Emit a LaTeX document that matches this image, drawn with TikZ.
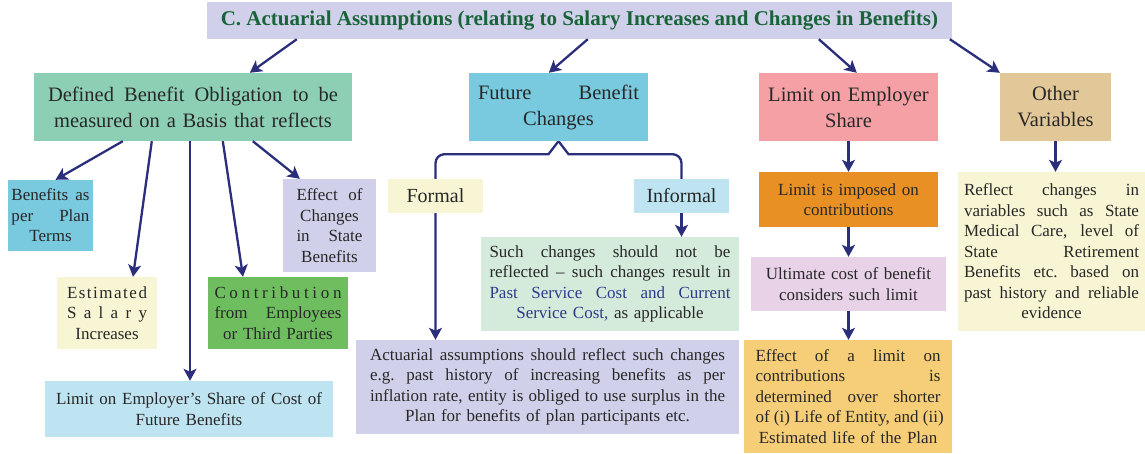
\documentclass[tikz,border=0pt]{standalone}
\usepackage{fontspec}
\setmainfont{Liberation Serif}
\usetikzlibrary{arrows.meta}

\definecolor{arrowblue}{RGB}{43,46,122}
\definecolor{inkgray}{RGB}{40,40,40}
\definecolor{titlegreen}{RGB}{24,100,56}
\definecolor{lavfill}{RGB}{208,208,234}
\definecolor{mintfill}{RGB}{141,207,181}
\definecolor{skyfill}{RGB}{121,201,223}
\definecolor{pinkfill}{RGB}{244,160,165}
\definecolor{tanfill}{RGB}{226,200,152}
\definecolor{paleyellow}{RGB}{248,245,212}
\definecolor{contgreen}{RGB}{110,190,96}
\definecolor{lightblue}{RGB}{190,228,242}
\definecolor{palegreen}{RGB}{212,234,218}
\definecolor{orangefill}{RGB}{232,144,36}
\definecolor{mauvefill}{RGB}{232,210,232}
\definecolor{goldfill}{RGB}{246,206,120}
\definecolor{pastblue}{RGB}{45,60,140}

\newcommand{\jl}[1]{\makebox[\hsize][s]{\spaceskip=.25em plus 1fil\xspaceskip=\spaceskip #1}}

\pgfdeclarelayer{bg}
\pgfsetlayers{bg,main}

\begin{document}
\begin{tikzpicture}[x=1pt, y=-1pt,
  box/.style={rectangle, inner sep=0pt, align=center, text=inkgray, font=\fontsize{17}{20.5}\selectfont},
  head/.style={box, minimum height=68pt, font=\fontsize{20.5}{26}\selectfont},
  arr/.style={-{Stealth[length=12pt, width=13pt, inset=3pt]}, line width=2.3pt, draw=arrowblue},
  link/.style={line width=2.3pt, draw=arrowblue}]
  \useasboundingbox (0,0) rectangle (1145,454);

  \node[box, fill=lavfill, minimum width=745pt, minimum height=37pt, text=titlegreen, font=\fontsize{21}{24}\selectfont\bfseries] (title) at (579.5,20.5) {C. Actuarial Assumptions (relating to Salary Increases and Changes in Benefits)};

  \node[head, fill=mintfill, minimum width=318pt, text width=290pt] (dbo) at (193,107) {\jl{Defined Benefit Obligation to be}\\ measured on a Basis that reflects};
  \node[head, fill=skyfill, minimum width=179pt, text width=161pt] (fbc) at (558.5,107) {\jl{Future Benefit}\\ Changes};
  \node[head, fill=pinkfill, minimum width=179pt, text width=169pt] (les) at (848.5,107) {Limit on Employer\\ Share};
  \node[head, fill=tanfill, minimum width=111pt, text width=100pt] (ov) at (1055.5,107) {Other\\ Variables};

  \node[box, fill=skyfill, minimum width=85pt, minimum height=71pt, text width=78pt] (bpt) at (50.5,215.5) {\jl{Benefits as}\\ \jl{per Plan}\\ Terms};
  \node[box, fill=lavfill, minimum width=93pt, minimum height=93pt, text width=66pt] (eff) at (329.5,225.5) {\jl{Effect of}\\ Changes\\ \jl{in State}\\ Benefits};
  \node[box, fill=paleyellow, minimum width=100pt, minimum height=72pt, text width=80pt] (esi) at (107,313) {\jl{E\hfil s\hfil t\hfil i\hfil m\hfil a\hfil t\hfil e\hfil d}\\ \jl{S\hfil a\hfil l\hfil a\hfil r\hfil y}\\ Increases};
  \node[box, fill=contgreen, minimum width=140pt, minimum height=72pt, text width=127pt] (cont) at (278,313) {\jl{C\hfil o\hfil n\hfil t\hfil r\hfil i\hfil b\hfil u\hfil t\hfil i\hfil o\hfil n}\\ \jl{from Employees}\\ or Third Parties};
  \node[box, fill=lightblue, minimum width=288pt, minimum height=56pt, text width=274pt] (lesc) at (189,409) {Limit on Employer’s Share of Cost of\\ Future Benefits};

  \node[box, fill=paleyellow, minimum width=95pt, minimum height=34pt, font=\fontsize{20}{24}\selectfont] (formal) at (435.5,196) {Formal};
  \node[box, fill=lightblue, minimum width=95pt, minimum height=34pt, font=\fontsize{20}{24}\selectfont] (informal) at (681.5,196) {Informal};
  \node[box, fill=palegreen, minimum width=258pt, minimum height=94pt, text width=241pt] (such) at (610,284) {\jl{Such changes should not be}\\ \jl{reflected -- such changes result in}\\ \jl{\color{pastblue}Past Service Cost and Current}\\ \textcolor{pastblue}{Service Cost,} as applicable};
  \node[box, fill=lavfill, minimum width=383pt, minimum height=94pt, text width=355pt] (act) at (547.5,387) {\jl{Actuarial assumptions should reflect such changes}\\ \jl{e.g. past history of increasing benefits as per}\\ \jl{inflation rate, entity is obliged to use surplus in the}\\ Plan for benefits of plan participants etc.};

  \node[box, fill=orangefill, minimum width=179pt, minimum height=55pt, text width=165pt] (lio) at (848.5,199.5) {Limit is imposed on\\ contributions};
  \node[box, fill=mauvefill, minimum width=195pt, minimum height=54pt, text width=180pt] (ult) at (848.5,284) {Ultimate cost of benefit\\ considers such limit};
  \node[box, fill=goldfill, minimum width=208pt, minimum height=113pt, text width=185pt] (eal) at (848,396.5) {\jl{Effect of a limit on}\\ \jl{contributions is}\\ \jl{determined over shorter}\\ \jl{of (i) Life of Entity, and (ii)}\\ Estimated life of the Plan};
  \node[box, fill=paleyellow, minimum width=187pt, minimum height=159pt, text width=175pt] (refl) at (1051.5,251.5) {\jl{Reflect changes in}\\ \jl{variables such as State}\\ \jl{Medical Care, level of}\\ \jl{State Retirement}\\ \jl{Benefits etc. based on}\\ \jl{past history and reliable}\\ evidence};

  \draw[arr] ([xshift=90pt]title.south west) -- ([xshift=216pt]dbo.north west);
  \draw[arr] ([xshift=381pt]title.south west) -- ([xshift=80pt]fbc.north west);
  \draw[arr] ([xshift=612pt]title.south west) -- ([xshift=98pt]les.north west);
  \draw[arr] ([xshift=743pt]title.south west) -- (ov.north west);

  \draw[arr] ([xshift=89pt]dbo.south west) -- ([xshift=5pt]bpt.north);
  \draw[arr] ([xshift=118pt]dbo.south west) -- ([xshift=26pt]esi.north);
  \draw[arr] ([xshift=-3pt]dbo.south) -- ([xshift=-3pt]dbo.south |- lesc.north);
  \draw[arr] ([xshift=189pt]dbo.south west) -- ([xshift=-35pt]cont.north);
  \draw[arr] ([xshift=219pt]dbo.south west) -- ([xshift=17pt]eff.north west);

  \begin{pgfonlayer}{bg}
    \draw[arr] (fbc.south) -- ([xshift=-10pt, yshift=-13pt]fbc.south) [rounded corners=9pt] -| (formal.north |- act.north);
    \draw[link] (fbc.south) -- ([xshift=10pt, yshift=-13pt]fbc.south) [rounded corners=9pt] -| (informal.north);
  \end{pgfonlayer}
  \draw[arr] (informal.south) -- (informal.south |- such.north);

  \draw[arr] (les.south) -- (lio.north);
  \draw[arr] (lio.south) -- (ult.north);
  \draw[arr] (ult.south) -- (ult.south |- eal.north);
  \draw[arr] (ov.south) -- (ov.south |- refl.north);
\end{tikzpicture}
\end{document}
